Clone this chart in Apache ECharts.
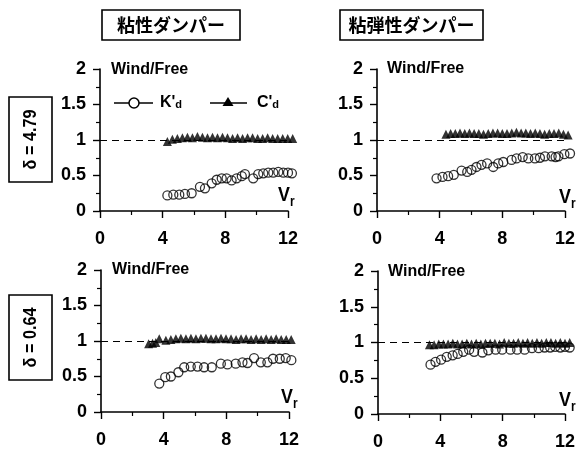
<!DOCTYPE html>
<html><head><meta charset="utf-8">
<script src="https://cdn.jsdelivr.net/npm/echarts@6/dist/echarts.min.js"></script>
<style>html,body{margin:0;padding:0;background:#fff}#c{width:578px;height:455px}</style>
</head><body><div id="c"></div>
<script>
// ---- data ----
var xTicks = [0, 4, 8, 12];
var yTicks = [0, 0.5, 1, 1.5, 2];
var colTitles = ['粘性ダンパー', '粘弾性ダンパー'];
var rowTitles = ['δ = 4.79', 'δ = 0.64'];

var tlKx = [4.30,4.68,5.06,5.42,5.85,6.38,6.70,7.13,7.45,7.77,8.08,8.40,8.72,9.05,9.25,9.78,10.10,10.42,10.74,11.06,11.38,11.70,12.00,12.25];
var tlKy = [0.22,0.23,0.23,0.24,0.25,0.34,0.32,0.39,0.44,0.46,0.46,0.43,0.46,0.49,0.52,0.46,0.52,0.53,0.54,0.54,0.55,0.54,0.54,0.53];
var tlCx = [4.30,4.62,4.94,5.26,5.58,5.90,6.22,6.54,6.86,7.18,7.50,7.82,8.14,8.46,8.78,9.10,9.42,9.74,10.06,10.38,10.70,11.02,11.34,11.66,11.98,12.30];
var tlCy = [0.98,1.01,1.02,1.03,1.04,1.03,1.05,1.04,1.03,1.04,1.03,1.04,1.03,1.02,1.03,1.02,1.03,1.03,1.02,1.02,1.03,1.02,1.02,1.02,1.02,1.02];

var trKx = [3.80,4.18,4.54,4.90,5.40,5.76,6.03,6.35,6.67,7.03,7.42,7.74,8.06,8.59,8.91,9.30,9.66,10.08,10.40,10.72,11.15,11.40,11.58,11.96,12.32];
var trKy = [0.46,0.48,0.49,0.51,0.57,0.55,0.58,0.62,0.65,0.67,0.62,0.67,0.69,0.72,0.74,0.76,0.74,0.74,0.75,0.77,0.77,0.76,0.77,0.80,0.81];
var trCx = [4.40,4.70,5.00,5.30,5.60,5.90,6.20,6.50,6.80,7.10,7.40,7.70,8.00,8.30,8.60,8.90,9.20,9.50,9.80,10.10,10.40,10.70,11.00,11.30,11.60,11.90,12.20];
var trCy = [1.08,1.09,1.09,1.10,1.09,1.10,1.09,1.09,1.08,1.09,1.10,1.10,1.09,1.09,1.10,1.11,1.10,1.10,1.09,1.10,1.09,1.08,1.09,1.09,1.10,1.08,1.07];

var blKx = [3.72,4.10,4.46,4.94,5.31,5.73,6.16,6.58,7.07,7.65,8.07,8.60,9.03,9.35,9.77,10.20,10.62,10.98,11.41,11.79,12.15];
var blKy = [0.40,0.49,0.50,0.56,0.63,0.64,0.64,0.63,0.63,0.68,0.67,0.68,0.70,0.69,0.76,0.70,0.70,0.75,0.75,0.76,0.73];
var blCx = [3.04,3.29,3.50,3.72,4.14,4.46,4.78,5.10,5.42,5.74,6.06,6.38,6.70,7.02,7.34,7.66,7.98,8.30,8.62,8.94,9.26,9.58,9.90,10.22,10.54,10.86,11.18,11.50,11.82,12.14];
var blCy = [0.96,0.97,0.98,1.03,1.01,1.02,1.03,1.04,1.03,1.04,1.03,1.04,1.04,1.03,1.03,1.04,1.03,1.03,1.02,1.03,1.03,1.02,1.03,1.02,1.03,1.02,1.03,1.02,1.02,1.02];

var brKx = [3.37,3.69,4.05,4.41,4.79,5.11,5.47,5.85,6.17,6.70,7.08,7.55,7.97,8.50,8.93,9.41,9.88,10.31,10.69,11.05,11.37,11.70,12.00,12.30];
var brKy = [0.69,0.73,0.76,0.80,0.82,0.84,0.87,0.90,0.87,0.86,0.89,0.90,0.90,0.90,0.90,0.90,0.92,0.92,0.93,0.93,0.94,0.93,0.94,0.93];
var brCx = [3.30,3.60,3.90,4.20,4.50,4.80,5.10,5.40,5.70,6.00,6.30,6.60,6.90,7.20,7.50,7.80,8.10,8.40,8.70,9.00,9.30,9.60,9.90,10.20,10.50,10.80,11.10,11.40,11.70,12.00,12.30];
var brCy = [0.97,0.97,0.98,0.98,0.98,0.99,0.98,0.98,0.99,0.98,0.99,0.98,0.99,0.99,0.99,0.98,1.00,0.99,0.99,1.00,0.99,1.00,0.99,1.00,0.99,1.00,1.00,0.99,1.00,0.99,1.00];

var panels = [
  {kx: tlKx, ky: tlKy, cx: tlCx, cy: tlCy},
  {kx: trKx, ky: trKy, cx: trCx, cy: trCy},
  {kx: blKx, ky: blKy, cx: blCx, cy: blCy},
  {kx: brKx, ky: brKy, cx: brCx, cy: brCy}
];

// ---- layout ----
var FONT = "'Liberation Sans',Arial,sans-serif";
var grids = [
  {left: 100, top: 69, width: 188, height: 142},
  {left: 377, top: 69, width: 188, height: 142},
  {left: 101, top: 270, width: 188, height: 142},
  {left: 378, top: 271, width: 189, height: 143}
];
function zip(a, b) { return a.map(function (v, i) { return [v, b[i]]; }); }

var xAxes = [], yAxes = [], series = [];
grids.forEach(function (g, i) {
  xAxes.push({
    type: 'value', gridIndex: i, min: xTicks[0], max: xTicks[xTicks.length - 1], interval: 4,
    splitLine: {show: false},
    axisLine: {show: true, onZero: false, lineStyle: {color: '#000', width: 1.6}},
    axisTick: {show: true, length: 7, lineStyle: {color: '#000', width: 1.4}},
    minorTick: {show: true, splitNumber: 2, length: 4, lineStyle: {color: '#000', width: 1.2}},
    axisLabel: {color: '#000', fontFamily: FONT, fontWeight: 'bold', fontSize: 18, margin: 19}
  });
  yAxes.push({
    type: 'value', gridIndex: i, min: yTicks[0], max: yTicks[yTicks.length - 1], interval: 0.5,
    splitLine: {show: false},
    axisLine: {show: true, onZero: false, lineStyle: {color: '#000', width: 1.6}},
    axisTick: {show: true, length: 7, lineStyle: {color: '#000', width: 1.4}},
    minorTick: {show: true, splitNumber: 2, length: 4, lineStyle: {color: '#000', width: 1.2}},
    axisLabel: {color: '#000', fontFamily: FONT, fontWeight: 'bold', fontSize: 18, margin: 14}
  });
  var p = panels[i];
  series.push({
    type: 'scatter', xAxisIndex: i, yAxisIndex: i, clip: false, z: 3,
    symbol: 'triangle', symbolSize: 9,
    itemStyle: {color: '#000'},
    data: zip(p.cx, p.cy),
    markLine: {
      silent: true, symbol: 'none', label: {show: false},
      lineStyle: {color: '#000', type: [7, 5], width: 1.2},
      data: [{yAxis: 1}]
    }
  });
  series.push({
    type: 'scatter', xAxisIndex: i, yAxisIndex: i, clip: false, z: 4,
    symbol: 'circle', symbolSize: 9,
    itemStyle: {color: 'rgba(255,255,255,0)', borderColor: '#000', borderWidth: 1.3},
    data: zip(p.kx, p.ky)
  });
});

var graphics = [];
// column titles
var colBoxes = [{x: 102, w: 138}, {x: 340, w: 143}];
colBoxes.forEach(function (b, i) {
  graphics.push({type: 'rect', shape: {x: b.x, y: 10, width: b.w, height: 30},
    style: {fill: '#fff', stroke: '#000', lineWidth: 1.6}});
  graphics.push({type: 'text', x: b.x + b.w / 2, y: 25,
    style: {text: colTitles[i], fill: '#000', font: "bold 18px 'Noto Sans CJK JP', sans-serif",
      align: 'center', verticalAlign: 'middle'}});
});
// row titles
var rowBoxes = [97, 295];
rowBoxes.forEach(function (y, i) {
  graphics.push({type: 'rect', shape: {x: 9, y: y, width: 43, height: 85},
    style: {fill: '#fff', stroke: '#000', lineWidth: 1.6}});
  graphics.push({type: 'text', x: 31, y: y + 42.5, rotation: Math.PI / 2, scaleX: 0.9,
    style: {text: rowTitles[i], fill: '#000', font: "bold 18px " + FONT,
      align: 'center', verticalAlign: 'middle'}});
});
// Wind/Free labels and Vr labels
var wf = [[111, 62], [387, 61], [112, 262], [388, 264]];
var vr = [[278, 185], [559, 187], [281, 387], [559, 390]];
wf.forEach(function (q) {
  graphics.push({type: 'text', x: q[0], y: q[1],
    style: {text: 'Wind/Free', fill: '#000', font: "bold 16px " + FONT}});
});
vr.forEach(function (q) {
  graphics.push({type: 'text', x: q[0], y: q[1], scaleX: 0.85,
    style: {text: '{v|V}{s|r}', fill: '#000',
      rich: {v: {fontFamily: FONT, fontWeight: 'bold', fontSize: 21, verticalAlign: 'bottom'},
             s: {fontFamily: FONT, fontWeight: 'bold', fontSize: 14, verticalAlign: 'bottom', padding: [0, 0, -3, 0]}}}});
});
// legend (top-left panel)
graphics.push({type: 'line', shape: {x1: 114, y1: 103, x2: 153, y2: 103}, style: {stroke: '#000', lineWidth: 1.4}});
graphics.push({type: 'circle', shape: {cx: 134, cy: 103, r: 5}, style: {fill: '#fff', stroke: '#000', lineWidth: 1.5}});
graphics.push({type: 'line', shape: {x1: 210, y1: 103, x2: 247, y2: 103}, style: {stroke: '#000', lineWidth: 1.4}});
graphics.push({type: 'polygon', shape: {points: [[228, 97], [222.5, 106], [233.5, 106]]}, style: {fill: '#000'}});
graphics.push({type: 'text', x: 160, y: 95,
  style: {text: "{m|K'}{s|d}", fill: '#000',
    rich: {m: {fontFamily: FONT, fontWeight: 'bold', fontSize: 16}, s: {fontFamily: FONT, fontWeight: 'bold', fontSize: 11, padding: [4, 0, 0, 0]}}}});
graphics.push({type: 'text', x: 257, y: 95,
  style: {text: "{m|C'}{s|d}", fill: '#000',
    rich: {m: {fontFamily: FONT, fontWeight: 'bold', fontSize: 16}, s: {fontFamily: FONT, fontWeight: 'bold', fontSize: 11, padding: [4, 0, 0, 0]}}}});

var chart = echarts.init(document.getElementById('c'), null, {renderer: 'canvas'});
chart.setOption({
  animation: false,
  backgroundColor: '#fff',
  grid: grids,
  xAxis: xAxes,
  yAxis: yAxes,
  series: series,
  graphic: graphics
});
</script></body></html>
